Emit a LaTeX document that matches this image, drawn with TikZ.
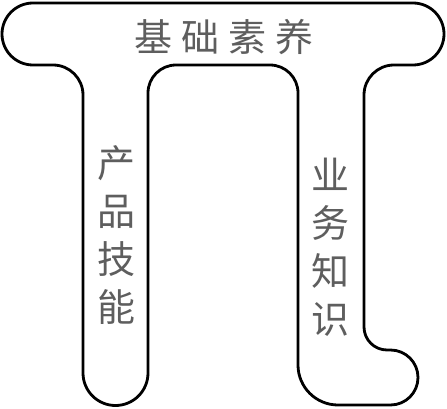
\documentclass[tikz,border=0pt]{standalone}
\usepackage{fontspec}
\newfontfamily\cjk{Noto Sans CJK SC}
\definecolor{txtgray}{HTML}{5E5E5E}

\begin{document}
\begin{tikzpicture}[x=1pt,y=-1pt,outline/.style={draw=black,line width=2.8pt,line join=round},txtnode/.style={text=txtgray,font=\cjk\fontsize{38}{48}\selectfont,align=center,inner sep=0pt}]
		\useasboundingbox (0,0) rectangle (447,409);
		\draw[outline] (33,3) -- (413,3) arc[start angle=-90,end angle=90,radius=31]
			-- (394,65) arc[start angle=-90,end angle=-180,radius=30]
			-- (364,327) arc[start angle=180,end angle=90,radius=23]
			-- (390.5,350) arc[start angle=-90,end angle=90,radius=27.5]
			-- (338,405) arc[start angle=90,end angle=180,radius=40]
			-- (298,93) arc[start angle=0,end angle=-90,radius=28]
			-- (176,65) arc[start angle=-90,end angle=-180,radius=28]
			-- (148,373) arc[start angle=0,end angle=180,radius=32.5]
			-- (83,95) arc[start angle=0,end angle=-90,radius=30]
			-- (33,65) arc[start angle=90,end angle=270,radius=31] -- cycle;
		\node[txtnode] (base) at (224,37) {基\hspace{9pt}础\hspace{9pt}素\hspace{9pt}养};
		\node[txtnode] (skill) at (116,235) {产\\品\\技\\能};
		\node[txtnode] (biz) at (330,247) {业\\务\\知\\识};
	\end{tikzpicture}
\end{document}
